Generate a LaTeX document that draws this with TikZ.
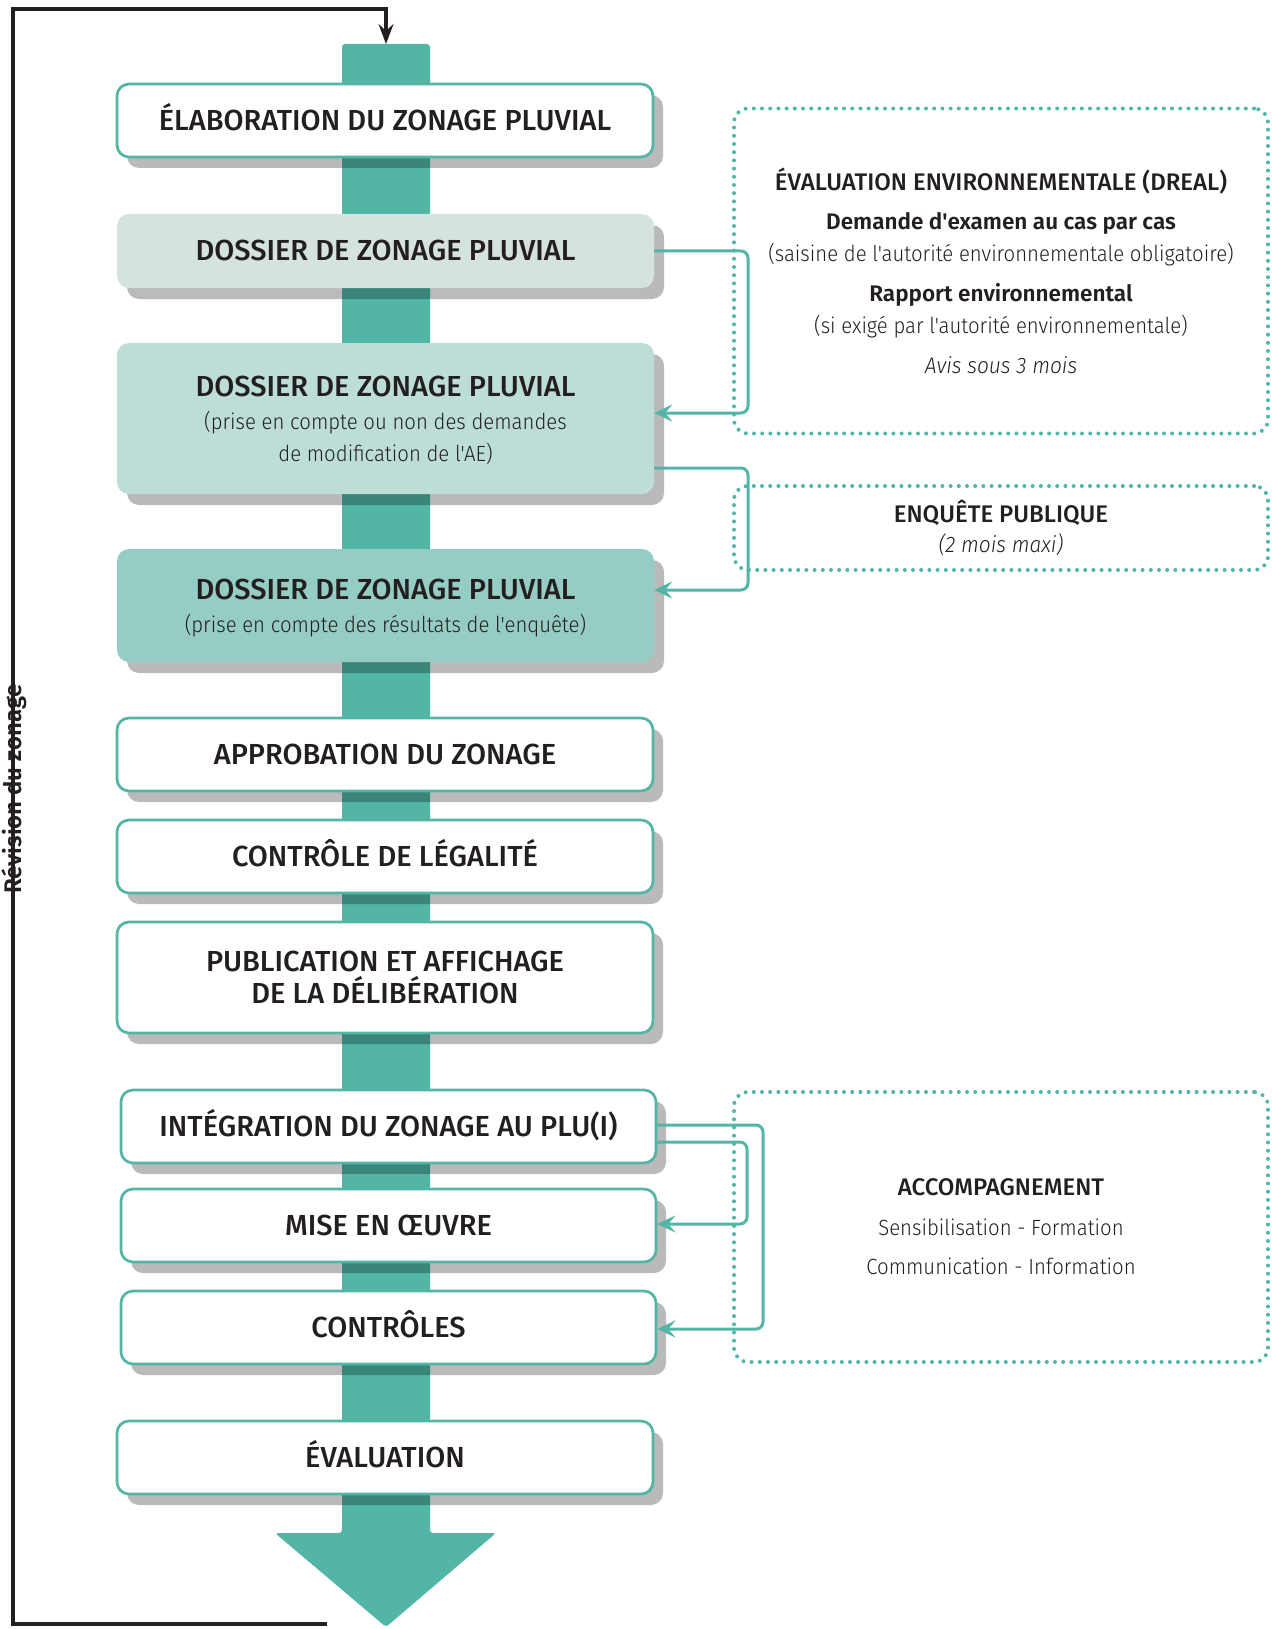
\documentclass[tikz,border=0pt]{standalone}
\usepackage{fontspec}
\setmainfont{Fira Sans}[BoldFont={Fira Sans Medium}]
\newfontfamily\lightf{Fira Sans Light}[FakeStretch=0.925]
\newfontfamily\lightit{Fira Sans Light Italic}[FakeStretch=0.93]
\newfontfamily\heavyf{Fira Sans SemiBold}
\usetikzlibrary{shadows,arrows.meta}
\definecolor{brand}{HTML}{52B5A6}
\definecolor{ink}{HTML}{231F20}
\definecolor{fillA}{HTML}{D4E3DC}
\definecolor{fillB}{HTML}{BDDED7}
\definecolor{fillC}{HTML}{95CCC3}
\newcommand\ttl{\fontsize{29}{32}\selectfont\bfseries}
\newcommand\subt{\fontsize{22}{32}\selectfont\lightf}
\newcommand\rttl{\fontsize{24}{32}\selectfont\bfseries}
\newcommand\rbold{\fontsize{22.5}{32}\selectfont\heavyf}
\newcommand\rsub{\fontsize{22}{32}\selectfont\lightf}
\newcommand\rit{\fontsize{22.5}{32}\selectfont\lightit}
\tikzset{
  stepbox/.style={rounded corners=12pt, minimum width=536pt, align=center,
    text=ink, inner sep=0pt, font=\fontsize{22}{32}\selectfont,
    general shadow={fill=black, fill opacity=.27, shadow xshift=10pt, shadow yshift=-11pt}},
  outlined/.style={stepbox, draw=brand, line width=2.7pt, fill=white},
  filled/.style={stepbox, draw=none},
  oneline/.style={text height=20pt, text depth=0pt},
  dotbox/.style={draw=brand, line width=4pt, line cap=round, dash pattern=on 0pt off 8.2pt,
    rounded corners=14pt, minimum width=534pt, align=center, text=ink, inner sep=0pt,
    font=\fontsize{22}{32}\selectfont},
  conn/.style={draw=brand, line width=3pt, rounded corners=7pt,
    -{Stealth[length=18pt,width=17pt,inset=7pt]}},
  loopline/.style={draw=ink, line width=4pt},
}
\begin{document}
\begin{tikzpicture}[x=1pt,y=-1pt]
\useasboundingbox (0,0) rectangle (1271,1629);

% central flow arrow
\fill[brand, rounded corners=3pt] (342,44) -- (430,44) -- (430,1533) -- (496,1533)
  -- (386,1627) -- (275,1533) -- (342,1533) -- cycle;
\coordinate (bartop) at (386,44);

% steps
\node[outlined, oneline, minimum height=73pt] (b1) at (385,120.5) {\ttl ÉLABORATION DU ZONAGE PLUVIAL};
\node[filled, oneline, fill=fillA, minimum width=537pt, minimum height=74pt] (b2) at (385.5,251) {\ttl DOSSIER DE ZONAGE PLUVIAL};
\node[filled, fill=fillB, minimum width=537pt, minimum height=151pt] (b3) at (385.5,418.5)
  {{\ttl\rule{0pt}{25pt}DOSSIER DE ZONAGE PLUVIAL}\\[1pt]{\subt (prise en compte ou non des demandes}\\{\subt de modification de l'AE)}};
\node[filled, fill=fillC, minimum width=537pt, minimum height=113pt] (b4) at (385.5,605.5)
  {{\ttl\rule{0pt}{26pt}DOSSIER DE ZONAGE PLUVIAL}\\[1pt]{\subt (prise en compte des résultats de l'enquête)}};
\node[outlined, oneline, minimum height=73pt] (b5) at (385,754.5) {\ttl APPROBATION DU ZONAGE};
\node[outlined, oneline, minimum height=73pt] (b6) at (385,856.5) {\ttl CONTRÔLE DE LÉGALITÉ};
\node[outlined, minimum height=111pt] (b7) at (385,977.5)
  {{\ttl PUBLICATION ET AFFICHAGE}\\{\ttl DE LA DÉLIBÉRATION}};
\node[outlined, oneline, minimum width=535pt, minimum height=73pt] (b8) at (388.5,1126.5) {\ttl INTÉGRATION DU ZONAGE AU PLU(I)};
\node[outlined, oneline, minimum width=535pt, minimum height=73pt] (b9) at (388.5,1225.5) {\ttl MISE EN ŒUVRE};
\node[outlined, oneline, minimum width=535pt, minimum height=73pt] (b10) at (388.5,1327.5) {\ttl CONTRÔLES};
\node[outlined, oneline, minimum height=73pt] (b11) at (385,1457.5) {\ttl ÉVALUATION};

% side panels
\node[dotbox, minimum height=325pt] (ee) at (1001,271)
  {{\rttl ÉVALUATION ENVIRONNEMENTALE (DREAL)}\\[7pt]
   {\rbold Demande d'examen au cas par cas}\\
   {\rsub (saisine de l'autorité environnementale obligatoire)}\\[8pt]
   {\rbold Rapport environnemental}\\
   {\rsub (si exigé par l'autorité environnementale)}\\[8pt]
   {\rit Avis sous 3 mois}};
\node[dotbox, minimum height=84pt] (ep) at (1001,528)
  {{\rttl ENQUÊTE PUBLIQUE}\\[-2pt]{\rit (2 mois maxi)}};
\node[dotbox, minimum height=270pt] (acc) at (1001,1227)
  {{\rttl ACCOMPAGNEMENT}\\[7.5pt]{\rsub Sensibilisation - Formation}\\[7.5pt]{\rsub Communication - Information}};

% connectors
\coordinate (k1) at (748,413);
\draw[conn] (b2.east) -| (k1) -- (b3.east |- k1);
\coordinate (s2) at (654,468);
\coordinate (k2) at (748,590);
\draw[conn] (b3.east |- s2) -| (k2) -- (b4.east |- k2);
\coordinate (s3) at (656,1125);
\coordinate (k3) at (763,1329);
\draw[conn] (b8.east |- s3) -| (k3) -- (b10.east |- k3);
\coordinate (s4) at (656,1142);
\coordinate (k4) at (747,1224);
\draw[conn] (b8.east |- s4) -| (k4) -- (b9.east |- k4);

% revision loop
\coordinate (lb) at (327,1624);
\draw[loopline, -{Stealth[length=20pt,width=15pt,inset=7pt]}]
  (lb) -- (12.5,1624) -- (12.5,9) -- (386,9) -- (bartop);
\node[rotate=90, text=ink, font=\fontsize{24}{28}\selectfont\heavyf] (rev) at (14,789) {Révision du zonage};
\end{tikzpicture}
\end{document}
